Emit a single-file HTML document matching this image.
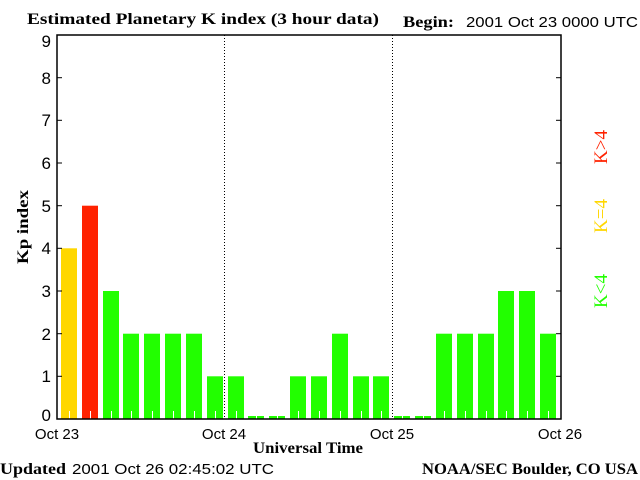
<!DOCTYPE html>
<html><head><meta charset="utf-8"><style>
body{margin:0;background:#fff;}
svg{display:block;}
.t{font-family:"Liberation Sans",sans-serif;font-size:15px;fill:#000;}
.b{font-family:"Liberation Serif",serif;font-weight:bold;font-size:16px;fill:#000;}
.k{font-family:"Liberation Serif",serif;font-size:19px;}
</style></head><body>
<svg width="640" height="480" xmlns="http://www.w3.org/2000/svg">
<text class="b" x="27" y="24" textLength="352" lengthAdjust="spacingAndGlyphs">Estimated Planetary K index (3 hour data)</text>
<text class="b" x="403" y="27" textLength="51" lengthAdjust="spacingAndGlyphs">Begin:</text>
<text class="t" x="466" y="27" textLength="172" lengthAdjust="spacingAndGlyphs">2001 Oct 23 0000 UTC</text>
<g>
<rect x="61" y="248.3" width="16" height="170.7" fill="#ffd700"/>
<rect x="82" y="205.7" width="16" height="213.3" fill="#ff2200"/>
<rect x="103" y="291" width="16" height="128" fill="#22ff00"/>
<rect x="123" y="333.7" width="16" height="85.3" fill="#22ff00"/>
<rect x="144" y="333.7" width="16" height="85.3" fill="#22ff00"/>
<rect x="165" y="333.7" width="16" height="85.3" fill="#22ff00"/>
<rect x="186" y="333.7" width="16" height="85.3" fill="#22ff00"/>
<rect x="207" y="376.3" width="16" height="42.7" fill="#22ff00"/>
<rect x="228" y="376.3" width="16" height="42.7" fill="#22ff00"/>
<rect x="248" y="416" width="16" height="3" fill="#22ff00"/>
<rect x="269" y="416" width="16" height="3" fill="#22ff00"/>
<rect x="290" y="376.3" width="16" height="42.7" fill="#22ff00"/>
<rect x="311" y="376.3" width="16" height="42.7" fill="#22ff00"/>
<rect x="332" y="333.7" width="16" height="85.3" fill="#22ff00"/>
<rect x="353" y="376.3" width="16" height="42.7" fill="#22ff00"/>
<rect x="373" y="376.3" width="16" height="42.7" fill="#22ff00"/>
<rect x="394" y="416" width="16" height="3" fill="#22ff00"/>
<rect x="415" y="416" width="16" height="3" fill="#22ff00"/>
<rect x="436" y="333.7" width="16" height="85.3" fill="#22ff00"/>
<rect x="457" y="333.7" width="16" height="85.3" fill="#22ff00"/>
<rect x="478" y="333.7" width="16" height="85.3" fill="#22ff00"/>
<rect x="498" y="291" width="16" height="128" fill="#22ff00"/>
<rect x="519" y="291" width="16" height="128" fill="#22ff00"/>
<rect x="540" y="333.7" width="16" height="85.3" fill="#22ff00"/>
</g>
<g stroke="#fff">
<line x1="69.5" y1="411" x2="69.5" y2="419"/><line x1="90.5" y1="411" x2="90.5" y2="419"/>
<line x1="111.5" y1="411" x2="111.5" y2="419"/><line x1="131.5" y1="411" x2="131.5" y2="419"/>
<line x1="152.5" y1="411" x2="152.5" y2="419"/><line x1="173.5" y1="411" x2="173.5" y2="419"/>
<line x1="194.5" y1="411" x2="194.5" y2="419"/><line x1="215.5" y1="411" x2="215.5" y2="419"/>
<line x1="236.5" y1="411" x2="236.5" y2="419"/><line x1="256.5" y1="411" x2="256.5" y2="419"/>
<line x1="277.5" y1="411" x2="277.5" y2="419"/><line x1="298.5" y1="411" x2="298.5" y2="419"/>
<line x1="319.5" y1="411" x2="319.5" y2="419"/><line x1="340.5" y1="411" x2="340.5" y2="419"/>
<line x1="361.5" y1="411" x2="361.5" y2="419"/><line x1="381.5" y1="411" x2="381.5" y2="419"/>
<line x1="402.5" y1="411" x2="402.5" y2="419"/><line x1="423.5" y1="411" x2="423.5" y2="419"/>
<line x1="444.5" y1="411" x2="444.5" y2="419"/><line x1="465.5" y1="411" x2="465.5" y2="419"/>
<line x1="486.5" y1="411" x2="486.5" y2="419"/><line x1="506.5" y1="411" x2="506.5" y2="419"/>
<line x1="527.5" y1="411" x2="527.5" y2="419"/><line x1="548.5" y1="411" x2="548.5" y2="419"/>
</g>
<line x1="224.5" y1="35" x2="224.5" y2="419" stroke="#000" stroke-dasharray="1,2"/>
<line x1="392.5" y1="35" x2="392.5" y2="419" stroke="#000" stroke-dasharray="1,2"/>
<rect x="57" y="35" width="504" height="384" fill="none" stroke="#000" stroke-width="1.5"/>
<g stroke="#000">
<line x1="57" y1="419" x2="62" y2="419"/><line x1="556" y1="419" x2="561" y2="419"/>
<line x1="57" y1="376.3" x2="62" y2="376.3"/><line x1="556" y1="376.3" x2="561" y2="376.3"/>
<line x1="57" y1="333.7" x2="62" y2="333.7"/><line x1="556" y1="333.7" x2="561" y2="333.7"/>
<line x1="57" y1="291" x2="62" y2="291"/><line x1="556" y1="291" x2="561" y2="291"/>
<line x1="57" y1="248.3" x2="62" y2="248.3"/><line x1="556" y1="248.3" x2="561" y2="248.3"/>
<line x1="57" y1="205.7" x2="62" y2="205.7"/><line x1="556" y1="205.7" x2="561" y2="205.7"/>
<line x1="57" y1="163" x2="62" y2="163"/><line x1="556" y1="163" x2="561" y2="163"/>
<line x1="57" y1="120.3" x2="62" y2="120.3"/><line x1="556" y1="120.3" x2="561" y2="120.3"/>
<line x1="57" y1="77.7" x2="62" y2="77.7"/><line x1="556" y1="77.7" x2="561" y2="77.7"/>
</g>
<g class="t" text-anchor="end" style="font-size:17px">
<text x="51" y="421">0</text><text x="51" y="382">1</text><text x="51" y="340">2</text>
<text x="51" y="297">3</text><text x="51" y="254">4</text><text x="51" y="212">5</text>
<text x="51" y="169">6</text><text x="51" y="126">7</text><text x="51" y="84">8</text>
<text x="51" y="47">9</text>
</g>
<text class="t" x="57" y="439" text-anchor="middle">Oct 23</text>
<text class="t" x="224" y="439" text-anchor="middle">Oct 24</text>
<text class="t" x="392" y="439" text-anchor="middle">Oct 25</text>
<text class="t" x="560" y="439" text-anchor="middle">Oct 26</text>
<text class="b" x="308" y="453" text-anchor="middle" textLength="110" lengthAdjust="spacingAndGlyphs">Universal Time</text>
<text class="b" x="28" y="227" text-anchor="middle" transform="rotate(-90 28 227)" textLength="74" lengthAdjust="spacingAndGlyphs">Kp index</text>
<text class="b" x="0" y="474" textLength="66" lengthAdjust="spacingAndGlyphs">Updated</text>
<text class="t" x="72" y="474" textLength="202" lengthAdjust="spacingAndGlyphs">2001 Oct 26 02:45:02 UTC</text>
<text class="b" x="638" y="474" text-anchor="end" textLength="216" lengthAdjust="spacingAndGlyphs">NOAA/SEC Boulder, CO USA</text>
<text class="k" x="607" y="147" text-anchor="middle" fill="#ff2200" transform="rotate(-90 607 147)">K&gt;4</text>
<text class="k" x="607" y="216" text-anchor="middle" fill="#ffd700" transform="rotate(-90 607 216)">K=4</text>
<text class="k" x="607" y="291" text-anchor="middle" fill="#22ff00" transform="rotate(-90 607 291)">K&lt;4</text>
</svg>
</body></html>
